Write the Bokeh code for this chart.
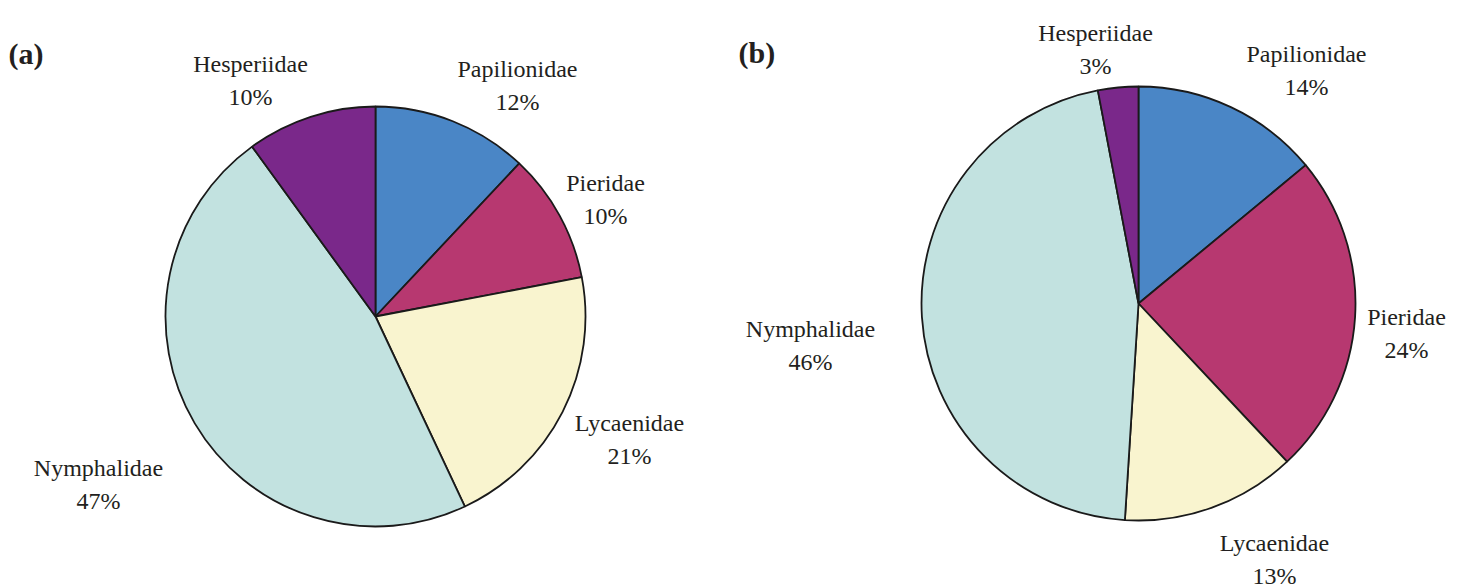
import numpy as np
from bokeh.plotting import figure
from bokeh.models import ColumnDataSource, Range1d
from bokeh.core.properties import value
from bokeh.embed import file_html
from bokeh.resources import INLINE

# ---------------- data ----------------
families = ["Papilionidae", "Pieridae", "Lycaenidae", "Nymphalidae", "Hesperiidae"]
pct_a = [12, 10, 21, 47, 10]
pct_b = [14, 24, 13, 46, 3]
colors = ["#4a86c6", "#b73870", "#f9f4cf", "#c2e2e0", "#7a288a"]
panel_labels = ["(a)", "(b)"]

# ---------------- layout (image pixel coordinates) ----------------
W, H = 1464, 587
def Y(iy):
    return H - iy

centers = [(375, 316), (1138, 303)]
radii = [210, 217]
# name label anchor (center x, baseline y) for each family, per panel
label_pos_a = [(517, 68), (605, 182), (629, 422), (98, 467), (250, 63)]
label_pos_b = [(1306, 53), (1406, 316), (1274, 542), (810, 328), (1095, 32)]
line_gap = 33
panel_pos = [(8, 53), (738, 52)]

FONT = "Liberation Serif"
TXT_COLOR = "#231f20"

p = figure(width=W, height=H, x_range=Range1d(0, W), y_range=Range1d(0, H),
           output_backend="svg", toolbar_location=None, min_border=0,
           x_axis_type=None, y_axis_type=None)
p.grid.visible = False
p.outline_line_color = None
p.background_fill_color = "white"
p.border_fill_color = "white"

for (cx, cy), r, vals, lpos in zip(centers, radii, [pct_a, pct_b], [label_pos_a, label_pos_b]):
    v = np.array(vals, dtype=float)
    frac = v / v.sum()
    cum = np.concatenate([[0], np.cumsum(frac)])
    start = np.pi / 2 - 2 * np.pi * cum[:-1]
    end = np.pi / 2 - 2 * np.pi * cum[1:]
    src = ColumnDataSource(dict(start=start, end=end, color=colors, name=families))
    p.wedge(x=cx, y=Y(cy), radius=r, start_angle="start", end_angle="end",
            direction="clock", fill_color="color", line_color="#1a1a1a",
            line_width=1.8, source=src)

    lx = [q[0] for q in lpos]
    ly1 = [Y(q[1]) for q in lpos]
    ly2 = [Y(q[1] + line_gap) for q in lpos]
    pct_txt = [f"{int(x)}%" for x in vals]
    p.text(x=lx, y=ly1, text=families, text_font=value(FONT), text_font_size="24px",
           text_align="center", text_baseline="alphabetic", text_color=TXT_COLOR)
    p.text(x=lx, y=ly2, text=pct_txt, text_font=value(FONT), text_font_size="24px",
           text_align="center", text_baseline="alphabetic", text_color=TXT_COLOR)

p.text(x=[q[0] for q in panel_pos], y=[Y(q[1]) for q in panel_pos], text=panel_labels,
       text_font=value(FONT), text_font_size="30px", text_font_style="bold",
       text_align="left", text_baseline="alphabetic", text_color=TXT_COLOR)

open("out.html", "w").write(file_html(p, INLINE))
